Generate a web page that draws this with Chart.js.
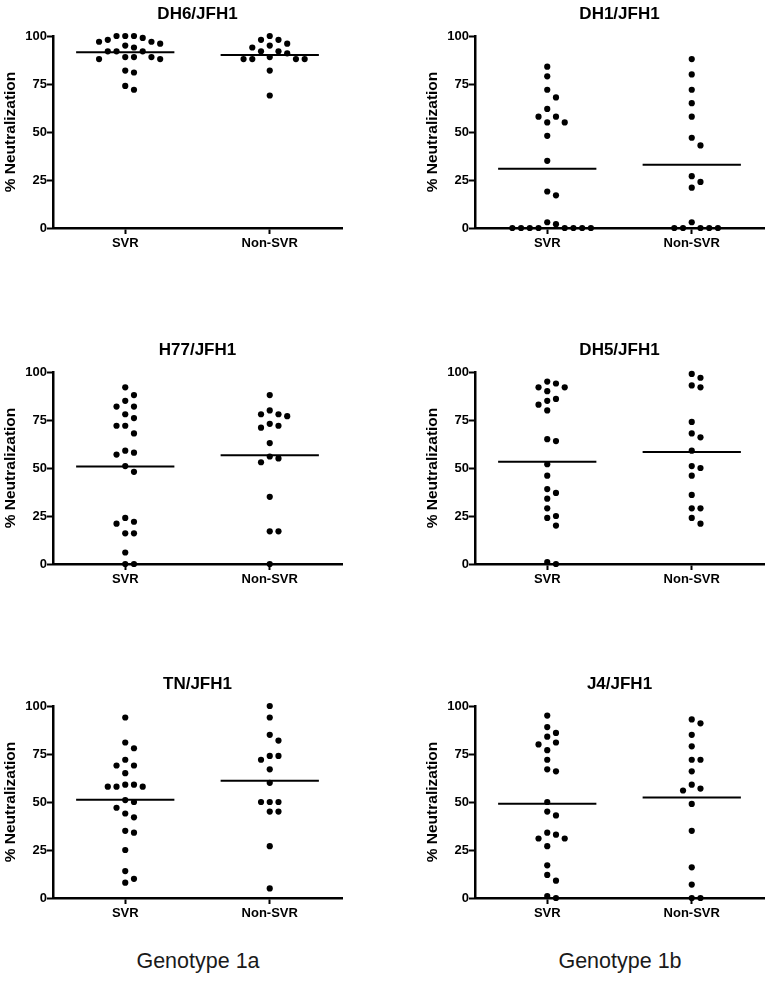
<!DOCTYPE html>
<html><head><meta charset="utf-8">
<script src="https://cdn.jsdelivr.net/npm/chart.js@4"></script>
<style>
body{margin:0;background:#fff;width:769px;height:998px;position:relative;overflow:hidden;font-family:"Liberation Sans",Arial,sans-serif;}
canvas.panel{position:absolute;}
.geno{position:absolute;top:949px;font-size:21.5px;color:#1a1a1a;transform:translateX(-50%);white-space:nowrap;}
</style></head><body>
<canvas class="panel" id="p0" width="347" height="258" style="left:0;top:0"></canvas>
<canvas class="panel" id="p1" width="347" height="258" style="left:422px;top:0"></canvas>
<canvas class="panel" id="p2" width="347" height="258" style="left:0;top:336px"></canvas>
<canvas class="panel" id="p3" width="347" height="258" style="left:422px;top:336px"></canvas>
<canvas class="panel" id="p4" width="347" height="258" style="left:0;top:670px"></canvas>
<canvas class="panel" id="p5" width="347" height="258" style="left:422px;top:670px"></canvas>
<div class="geno" id="g0" style="left:198px"></div>
<div class="geno" id="g1" style="left:620px"></div>
<script>
// ---- data ----
const groups = ['SVR', 'Non-SVR'];
const yTicks = [0, 25, 50, 75, 100];
const titles = ['DH6/JFH1', 'DH1/JFH1', 'H77/JFH1', 'DH5/JFH1', 'TN/JFH1', 'J4/JFH1'];
const genotypeLabels = ['Genotype 1a', 'Genotype 1b'];
const yAxisTitle = '% Neutralization';

const dh6Svr = [100,100,98,99,100,97,96,95,97,94,92,92,92,89,89,88,88,89,82,81,74,72];
const dh6Non = [100,98,98,96,95,94,92,92,91,89,88,88,88,88,82,69];
const dh6Means = [91.5, 90.1];

const dh1Svr = [84,79,72,68,62,58,58,55,55,48,35,19,17,3,2,0,0,0,0,0,0,0,0];
const dh1Non = [88,80,72,65,58,47,43,27,24,21,3,0,0,0,0,0];
const dh1Means = [30.8, 32.9];

const h77Svr = [92,88,85,82,82,78,76,72,72,68,59,58,57,51,48,24,22,21,16,16,6,0,0];
const h77Non = [88,80,78,78,77,73,72,71,63,56,55,53,35,17,17,0];
const h77Means = [50.8, 56.7];

const dh5Svr = [95,94,92,92,90,86,85,83,80,65,64,52,46,39,37,34,29,25,24,20,1,0];
const dh5Non = [99,97,93,92,74,68,66,59,51,50,46,36,29,29,24,21];
const dh5Means = [53.2, 58.3];

const tnSvr = [94,81,78,72,69,69,65,59,59,58,58,58,51,50,47,44,42,35,34,25,14,10,8];
const tnNon = [100,94,85,82,74,74,72,67,60,50,50,50,45,45,27,5];
const tnMeans = [51.2, 61.1];

const j4Svr = [95,89,86,84,81,80,77,72,67,66,50,45,43,34,33,31,31,27,17,12,9,1,0];
const j4Non = [93,91,85,79,72,72,66,59,57,56,49,35,16,7,0,0];
const j4Means = [49.1, 52.3];

// ---- drawing ----
const FONT = '"Liberation Sans", Arial, sans-serif';
const PX_PER_Y = 192 / 100;   // plot height / value range
const PX_PER_X = 144;         // pixels between category centres
const STEP_PX = 8.7, MIN_DIST = 8.0;

function swarm(values, center) {
  const sorted = [...values].sort((a, b) => b - a);
  const placed = [];
  for (const v of sorted) {
    for (let i = 0; i < 40; i++) {
      const k = i === 0 ? 0 : (i % 2 ? (i + 1) / 2 : -i / 2);
      const dx = k * STEP_PX;
      const ok = placed.every(p => {
        const ddx = p.px - dx, ddy = (p.y - v) * PX_PER_Y;
        return ddx * ddx + ddy * ddy >= MIN_DIST * MIN_DIST;
      });
      if (ok) { placed.push({px: dx, y: v}); break; }
    }
  }
  return placed.map(p => ({x: center + p.px / PX_PER_X, y: p.y}));
}

function meanLine(center, m) {
  return {data: [{x: center - 0.34, y: m}, {x: center + 0.34, y: m}], showLine: true,
          borderColor: '#000', borderWidth: 2, pointRadius: 0, order: 2};
}

function makePanel(id, title, svr, non, means) {
  const pts = swarm(svr, 0).concat(swarm(non, 1));
  new Chart(document.getElementById(id), {
    type: 'scatter',
    data: {datasets: [
      {data: pts, pointRadius: 3.1, pointBackgroundColor: '#000', pointBorderWidth: 0,
       pointBorderColor: '#000', clip: false, order: 1},
      meanLine(0, means[0]), meanLine(1, means[1])
    ]},
    options: {
      animation: false, responsive: false, devicePixelRatio: 1,
      layout: {padding: {left: 0, right: 5, top: 0, bottom: 0}},
      plugins: {
        legend: {display: false}, tooltip: {enabled: false},
        title: {display: true, text: title, fullSize: false, color: '#000',
                font: {family: FONT, size: 17, weight: 'bold'}, padding: {top: 4, bottom: 11.6}}
      },
      scales: {
        x: {type: 'linear', min: -0.5, max: 1.5,
            afterBuildTicks: s => { s.ticks = [{value: 0}, {value: 1}]; },
            afterFit: s => { s.height = 30; },
            ticks: {callback: v => groups[v], color: '#000', padding: 2, autoSkip: false, maxRotation: 0,
                    font: {family: FONT, size: 13, weight: 'bold'}},
            grid: {display: true, drawOnChartArea: false, drawTicks: true, tickLength: 6, tickWidth: 2, color: '#000'},
            border: {display: true, color: '#000', width: 2.5}},
        y: {min: 0, max: 100,
            afterBuildTicks: s => { s.ticks = yTicks.map(v => ({value: v})); },
            afterFit: s => { s.width = 53; },
            ticks: {color: '#000', padding: 0, font: {family: FONT, size: 13, weight: 'bold'}},
            grid: {display: true, drawOnChartArea: false, drawTicks: true, tickLength: 6, tickWidth: 2, color: '#000'},
            border: {display: true, color: '#000', width: 2.5},
            title: {display: true, text: yAxisTitle, color: '#000', padding: {top: 1, bottom: 0},
                    font: {family: FONT, size: 15.5, weight: 'bold'}}}
      }
    }
  });
}

makePanel('p0', titles[0], dh6Svr, dh6Non, dh6Means);
makePanel('p1', titles[1], dh1Svr, dh1Non, dh1Means);
makePanel('p2', titles[2], h77Svr, h77Non, h77Means);
makePanel('p3', titles[3], dh5Svr, dh5Non, dh5Means);
makePanel('p4', titles[4], tnSvr, tnNon, tnMeans);
makePanel('p5', titles[5], j4Svr, j4Non, j4Means);
document.getElementById('g0').textContent = genotypeLabels[0];
document.getElementById('g1').textContent = genotypeLabels[1];
</script>
</body></html>
